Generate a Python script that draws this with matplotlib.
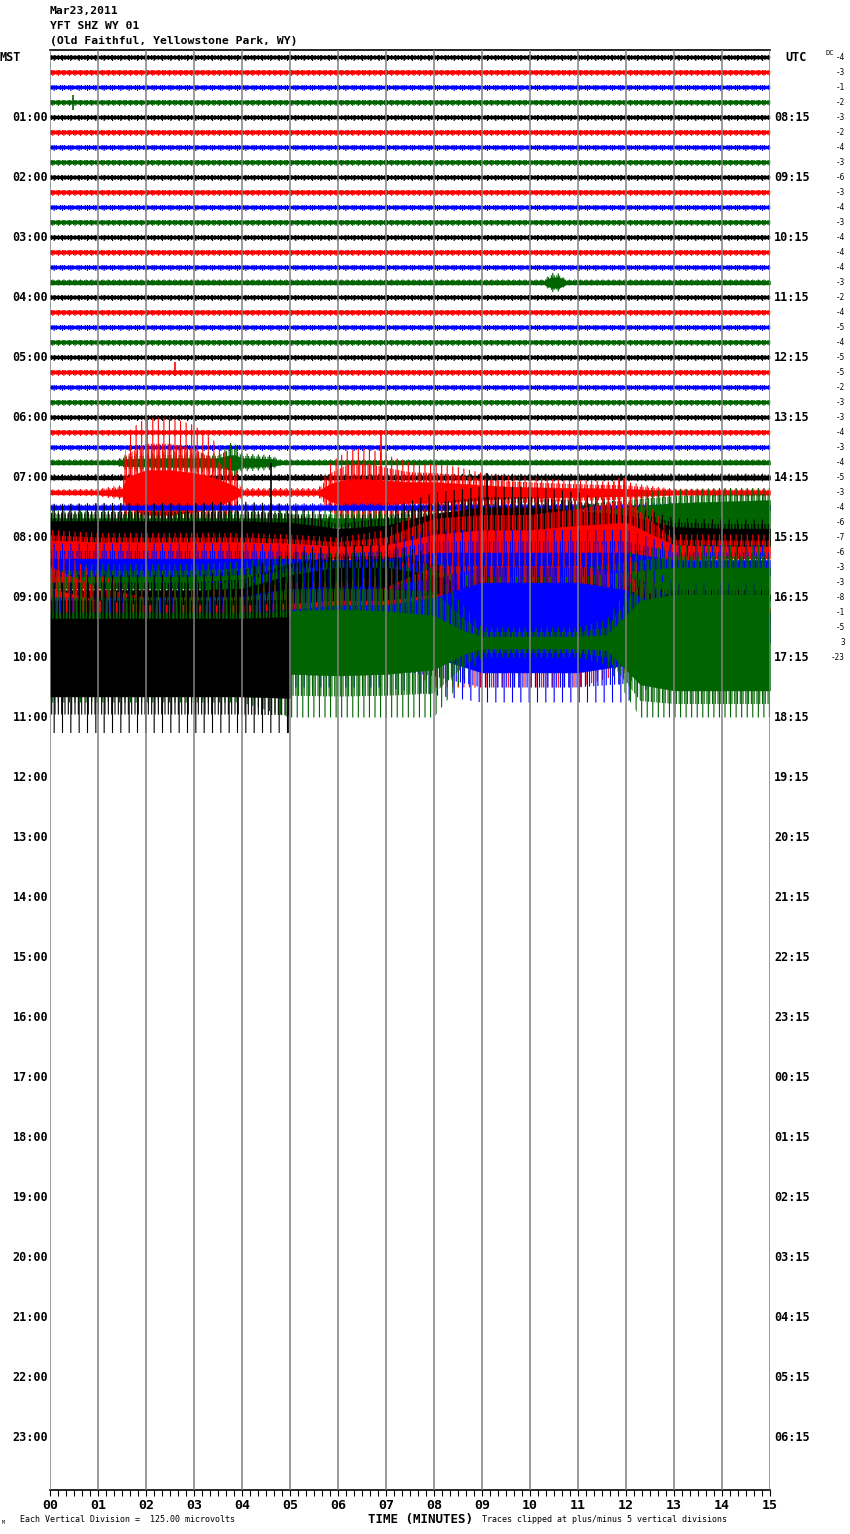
import matplotlib
matplotlib.use("Agg")
import matplotlib.pyplot as plt
import numpy as np

plt.rcParams['hatch.linewidth'] = 0.8
MONO = ['DejaVu Sans Mono']

# ---------------- data ----------------
header_lines = ["Mar23,2011", "YFT SHZ WY 01", "(Old Faithful, Yellowstone Park, WY)"]
mst_labels = ["01:00", "02:00", "03:00", "04:00", "05:00", "06:00", "07:00", "08:00",
              "09:00", "10:00", "11:00", "12:00", "13:00", "14:00", "15:00", "16:00",
              "17:00", "18:00", "19:00", "20:00", "21:00", "22:00", "23:00"]
utc_labels = ["08:15", "09:15", "10:15", "11:15", "12:15", "13:15", "14:15", "15:15",
              "16:15", "17:15", "18:15", "19:15", "20:15", "21:15", "22:15", "23:15",
              "00:15", "01:15", "02:15", "03:15", "04:15", "05:15", "06:15"]
minute_labels = ["00", "01", "02", "03", "04", "05", "06", "07", "08", "09",
                 "10", "11", "12", "13", "14", "15"]
dc_values = [-4, -3, -1, -2, -3, -2, -4, -3, -6, -3,
             -4, -3, -4, -4, -4, -3, -2, -4, -5, -4,
             -5, -5, -2, -3, -3, -4, -3, -4, -5, -3,
             -4, -6, -7, -6, -3, -3, -8, -1, -5, 3,
             -23]
trace_colors = ["#000000", "#ff0000", "#0000ff", "#006400"]
n_rows = 41

# quiet background noise level (divisions): dense core / peak
quiet_minutes = [0, 15]
quiet_core = [0.13, 0.13]
quiet_peak = [0.2, 0.2]

# event rows (minutes, core half-amplitude, peak half-amplitude) in divisions
minutes15 = [0, 10.3, 10.45, 10.6, 10.75, 15]
core15 = [0.13, 0.13, 0.35, 0.35, 0.13, 0.13]
peak15 = [0.2, 0.2, 0.65, 0.6, 0.2, 0.2]

minutes27 = [0, 1.4, 1.6, 2.5, 3.5, 3.75, 3.85, 4.0, 4.6, 4.8, 15]
core27 = [0.13, 0.13, 0.25, 0.3, 0.3, 0.5, 0.5, 0.3, 0.25, 0.13, 0.13]
peak27 = [0.2, 0.2, 0.55, 0.7, 0.6, 1.3, 1.3, 0.6, 0.5, 0.2, 0.2]

minutes28 = [0, 15]
core28 = [0.13, 0.14]
peak28 = [0.22, 0.26]

minutes29 = [0, 1.0, 1.5, 1.6, 2.0, 2.5, 3.0, 3.4, 3.8, 4.0, 5.6, 5.85, 6.2, 6.6, 7.0,
             7.5, 8.0, 8.5, 9.0, 9.5, 10.0, 11.0, 12.0, 12.5, 13.0, 15.0]
core29 = [0.13, 0.13, 0.25, 1.0, 1.5, 1.5, 1.3, 1.0, 0.5, 0.14, 0.14, 0.6, 0.9, 0.9, 0.8,
          0.7, 0.7, 0.6, 0.5, 0.4, 0.35, 0.3, 0.25, 0.18, 0.14, 0.14]
peak29 = [0.2, 0.25, 0.5, 4.0, 5.0, 5.0, 4.5, 3.5, 2.2, 0.3, 0.3, 2.0, 2.8, 3.0, 2.5,
          2.0, 1.9, 1.7, 1.3, 1.1, 1.0, 0.8, 0.7, 0.45, 0.25, 0.25]

minutes30 = [0, 10, 15]
core30 = [0.14, 0.15, 0.17]
peak30 = [0.25, 0.3, 0.38]

heavy_minutes = [0, 1, 2, 3, 4, 5, 6, 7, 8, 9, 10, 11, 12, 13, 14, 15]
core31 = [0.3, 0.3, 0.3, 0.3, 0.3, 0.3, 0.3, 0.3, 0.35, 0.45, 0.55, 0.7, 1.0, 1.3, 1.4, 1.5]
peak31 = [0.8, 0.8, 0.8, 0.8, 0.8, 0.8, 0.8, 0.8, 0.9, 1.1, 1.3, 1.6, 2.0, 2.2, 2.3, 2.3]
core32 = [1.1, 1.1, 1.1, 1.1, 1.1, 1.0, 0.6, 0.8, 1.6, 2.0, 2.0, 1.8, 1.5, 0.7, 0.6, 0.6]
peak32 = [2.2, 2.3, 2.3, 2.3, 2.4, 2.2, 1.2, 1.8, 3.0, 3.4, 3.4, 3.0, 2.2, 1.3, 1.2, 1.2]
core33 = [0.8, 0.7, 0.7, 0.7, 0.7, 0.6, 0.4, 0.5, 1.2, 1.5, 1.5, 1.8, 2.0, 0.5, 0.4, 0.4]
peak33 = [1.5, 1.3, 1.3, 1.3, 1.3, 1.2, 1.0, 1.5, 3.3, 3.5, 3.5, 4.0, 5.0, 1.2, 1.2, 1.2]
core34 = [0.6, 0.6, 0.6, 0.6, 0.6, 0.6, 0.5, 0.6, 1.0, 1.0, 1.0, 1.0, 1.0, 0.5, 0.5, 0.5]
peak34 = [1.6, 1.6, 1.6, 1.6, 1.6, 1.5, 1.3, 1.6, 2.5, 2.5, 2.5, 2.5, 2.5, 1.5, 1.5, 1.5]
core35 = [0.4, 0.4, 0.4, 0.4, 0.5, 0.7, 0.8, 0.8, 0.7, 0.4, 0.4, 0.4, 0.7, 1.0, 1.0, 1.0]
peak35 = [1.2, 1.2, 1.2, 1.2, 1.4, 1.8, 2.0, 2.0, 1.8, 1.5, 1.5, 1.5, 2.0, 2.5, 2.5, 2.5]
core36 = [0.5, 0.5, 0.5, 0.5, 0.6, 1.5, 2.0, 2.0, 1.5, 0.4, 0.4, 0.4, 0.4, 0.2, 0.2, 0.2]
peak36 = [1.5, 1.5, 1.5, 1.5, 1.8, 3.0, 3.5, 3.5, 3.0, 1.5, 1.5, 1.5, 1.2, 0.8, 0.8, 0.8]
core37 = [1.6, 0.8, 0.5, 0.5, 0.5, 0.6, 0.8, 0.8, 1.2, 1.2, 1.2, 1.2, 1.0, 0.3, 0.3, 0.3]
peak37 = [4.5, 2.5, 1.5, 1.5, 1.5, 2.0, 2.0, 2.5, 5.0, 5.0, 5.0, 5.0, 4.0, 1.0, 1.0, 1.0]
core38 = [1.0, 1.0, 1.0, 1.0, 1.0, 1.2, 1.5, 1.5, 2.0, 3.0, 3.0, 3.0, 2.5, 1.0, 1.0, 1.0]
peak38 = [3.0, 3.0, 3.0, 3.0, 3.2, 4.0, 4.0, 4.0, 4.5, 5.0, 5.0, 5.0, 5.0, 3.0, 3.0, 3.0]
minutes39 = [0, 2, 4, 5, 6, 7, 8, 8.6, 9.0, 10, 11, 11.6, 12.3, 13, 14, 15]
core39 = [2.0, 2.0, 2.0, 2.1, 2.2, 2.1, 1.8, 0.8, 0.4, 0.4, 0.4, 0.5, 2.8, 3.2, 3.2, 3.2]
peak39 = [4.0, 4.0, 4.0, 5.0, 5.0, 5.0, 5.0, 2.5, 1.0, 1.0, 1.0, 1.5, 5.0, 5.0, 5.0, 5.0]
minutes40 = [0, 1, 2, 3, 4, 5]          # last row stops at 10:05
core40 = [2.6, 2.6, 2.6, 2.6, 2.6, 2.7]
peak40 = [5.0, 5.0, 5.0, 5.0, 5.0, 5.0]

# isolated spikes: (row, minute, up, down) in divisions
spikes = [(3, 0.48, 0.5, 0.5), (21, 2.6, 0.7, 0.2), (29, 6.9, 4.0, 2.5),
          (32, 4.6, 5.0, 1.0), (32, 9.1, 4.3, 1.0), (33, 11.85, 5.0, 3.0),
          (33, 11.95, 5.0, 3.0), (40, 4.95, 3.0, 5.0)]

envelopes = {
    15: (minutes15, core15, peak15),
    27: (minutes27, core27, peak27),
    28: (minutes28, core28, peak28),
    29: (minutes29, core29, peak29),
    30: (minutes30, core30, peak30),
    31: (heavy_minutes, core31, peak31),
    32: (heavy_minutes, core32, peak32),
    33: (heavy_minutes, core33, peak33),
    34: (heavy_minutes, core34, peak34),
    35: (heavy_minutes, core35, peak35),
    36: (heavy_minutes, core36, peak36),
    37: (heavy_minutes, core37, peak37),
    38: (heavy_minutes, core38, peak38),
    39: (minutes39, core39, peak39),
    40: (minutes40, core40, peak40),
}

# ---------------- figure ----------------
W, H = 850, 1534
fig = plt.figure(figsize=(W / 100, H / 100), dpi=100)
ax = fig.add_axes([50 / W, 1 - 1490 / H, 720 / W, 1440 / H])
ax.set_xlim(0, 15)
ax.set_ylim(95.5, -0.5)

dense_hatch = ['|||||', '||||||', '||||', '||||||']
sparse_hatch = ['||', '|||', '||', '|||']

for r in range(n_rows):
    c = trace_colors[r % 4]
    mins, core, peak = envelopes.get(r, (quiet_minutes, quiet_core, quiet_peak))
    mins = np.asarray(mins, float)
    core = np.asarray(core, float)
    peak = np.asarray(peak, float)
    mid = (core + peak) / 2.0
    z = 2 + r * 0.01
    # sparse outer spikes, denser spikes nearer the trace, solid core
    ax.fill_between(mins, r - peak, r + peak, facecolor='none', edgecolor=c,
                    hatch=sparse_hatch[r % 4], linewidth=0, zorder=z)
    ax.fill_between(mins, r - mid, r + mid, facecolor='none', edgecolor=c,
                    hatch=dense_hatch[r % 4], linewidth=0, zorder=z + 0.002)
    ax.fill_between(mins, r - core, r + core, facecolor=c, edgecolor=c,
                    linewidth=0.3, zorder=z + 0.004)

for (r, m, up, dn) in spikes:
    ax.vlines(m, r - up, r + dn, color=trace_colors[r % 4], lw=1.2,
              zorder=2 + r * 0.01 + 0.006)

# minute grid lines (drawn on top of the traces)
for m in range(16):
    ax.axvline(m, color='#808080', lw=1.1, zorder=10)

# spines / ticks
for s in ['left', 'right']:
    ax.spines[s].set_visible(False)
ax.spines['top'].set_color('black')
ax.spines['top'].set_linewidth(1.2)
ax.spines['bottom'].set_color('black')
ax.spines['bottom'].set_linewidth(1.2)
ax.set_yticks([])
ax.set_xticks(range(16))
ax.set_xticks(np.arange(0, 15.001, 1 / 6), minor=True)
ax.set_xticklabels(minute_labels, family=MONO, fontweight='bold', fontsize=9.5)
ax.tick_params(axis='x', which='both', direction='out', length=4.5, width=0.8,
               color='black', pad=2)

# left / right time labels
ax.text(-50 / 48, 0, "MST", ha='left', va='center', family=MONO,
        fontweight='bold', fontsize=8.5, clip_on=False)
ax.text(735 / 48, 0, "UTC", ha='left', va='center', family=MONO,
        fontweight='bold', fontsize=8.5, clip_on=False)
for k, lab in enumerate(mst_labels, start=1):
    ax.text(-2 / 48, 4 * k, lab, ha='right', va='center', family=MONO,
            fontweight='bold', fontsize=8.5, clip_on=False)
for k, lab in enumerate(utc_labels, start=1):
    ax.text(724 / 48, 4 * k, lab, ha='left', va='center', family=MONO,
            fontweight='bold', fontsize=8.5, clip_on=False)

# DC offsets
for r, v in enumerate(dc_values):
    ax.text(795 / 48, r, str(v), ha='right', va='center', family=MONO,
            fontsize=5.5, clip_on=False)


def ftxt(x, y, s, **kw):
    fig.text(x / W, 1 - y / H, s, **kw)


ftxt(826, 53, "DC", ha='left', va='center', family=MONO, fontsize=5)

# header
for i, line in enumerate(header_lines):
    ftxt(50, 11 + 15 * i, line, ha='left', va='center', family=MONO,
         fontweight='bold', fontsize=8.2)

# footer
ftxt(421, 1519, "TIME (MINUTES)", ha='center', va='center', family=MONO,
     fontweight='bold', fontsize=9)
ftxt(20, 1520, "Each Vertical Division =  125.00 microvolts", ha='left', va='center',
     family=MONO, fontsize=6)
ftxt(482, 1520, "Traces clipped at plus/minus 5 vertical divisions", ha='left',
     va='center', family=MONO, fontsize=6)
ftxt(2, 1522, "M", ha='left', va='center', family=MONO, fontsize=3.5)

fig.savefig("out.png", dpi=100)
